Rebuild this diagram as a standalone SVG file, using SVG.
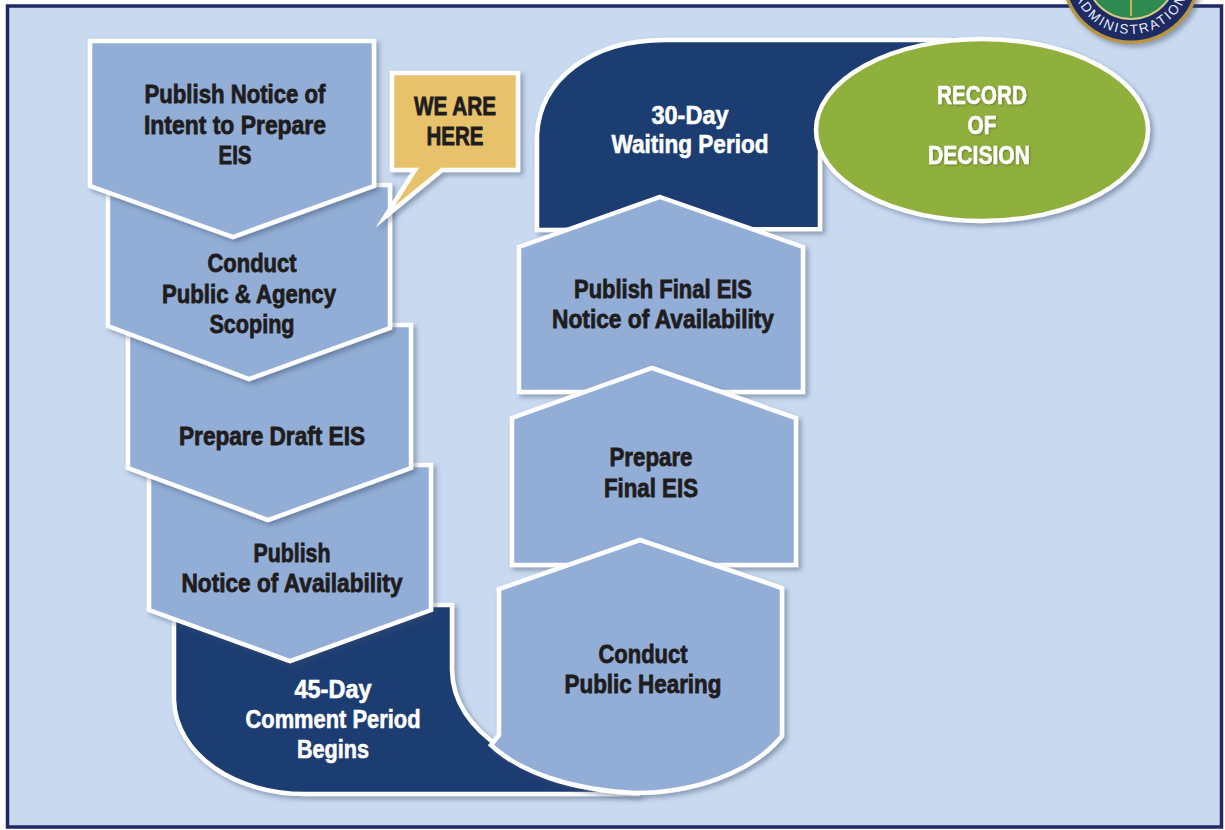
<svg xmlns="http://www.w3.org/2000/svg" width="1225" height="830" viewBox="0 0 1225 830">
<style>
.n{fill:#92aed6;stroke:#fff;stroke-width:4.500;stroke-linejoin:miter;filter:url(#s)}
.d{fill:#1f3d72;stroke:#fff;stroke-width:4.500;filter:url(#s)}
text{font-family:"Liberation Sans Narrow","Liberation Sans",Arial,sans-serif;font-weight:700;font-size:26px;text-anchor:middle}
.k{fill:#1f1c1e;stroke:#1f1c1e;stroke-width:.8}
.w{fill:#fff;stroke:#fff;stroke-width:.6}
.g{filter:url(#t)}
</style>
<defs>
<filter id="s" x="-10%" y="-10%" width="125%" height="125%"><feDropShadow dx="3" dy="3" stdDeviation="2.500" flood-color="#3c4a6a" flood-opacity=".45"/></filter>
<filter id="t" x="-10%" y="-20%" width="120%" height="140%"><feDropShadow dx="1" dy="1" stdDeviation="1.200" flood-color="#4c5c20" flood-opacity=".6"/></filter>
<path id="arc" d="M1071,-26 A60,60 0 0 0 1191,-26"/>
</defs>
<rect width="1225" height="830" fill="#fff"/>
<rect x="7.500" y="6" width="1214" height="821" fill="#c9daf0" stroke="#1e2a66" stroke-width="3.500"/>
<g id="seal">
<circle cx="1131" cy="-26" r="70" fill="#b8953f" filter="url(#s)"/>
<circle cx="1131" cy="-26" r="66.500" fill="#1d2a64"/>
<circle cx="1131" cy="-26" r="46" fill="#d8c98a"/>
<circle cx="1131" cy="-26" r="44" fill="#2e8a4e"/>
<path d="M1131,-5 L1131,16" stroke="#c9b25a" stroke-width="2"/>
<text style="font-family:'Liberation Sans',sans-serif;font-size:13.500px;font-weight:400;letter-spacing:2px;fill:#e8ecf4"><textPath href="#arc" startOffset="50%">ADMINISTRATION</textPath></text>
</g>
<g id="connectors"></g>
<g id="waiting">
<path class="d" d="M537,230 L537,135 C540,80 590,40 665,40 L945,40 L820,130 L820,229 Z"/>
<text class="w" x="690" y="124" textLength="77" lengthAdjust="spacingAndGlyphs">30-Day</text>
<text class="w" x="690" y="153" textLength="157" lengthAdjust="spacingAndGlyphs">Waiting Period</text>
</g>
<g id="record">
<ellipse cx="982" cy="130" rx="166" ry="91" fill="#90b03c" stroke="#fff" stroke-width="4.500" filter="url(#s)"/>
<text class="w g" x="982" y="104" textLength="90" lengthAdjust="spacingAndGlyphs">RECORD</text>
<text class="w g" x="982" y="134" textLength="29" lengthAdjust="spacingAndGlyphs">OF</text>
<text class="w g" x="979" y="164" textLength="102" lengthAdjust="spacingAndGlyphs">DECISION</text>
</g>
<g id="final-noa">
<path class="n" d="M660,197 L803,247 L803,392 L519,392 L519,247 Z"/>
<text class="k" x="663" y="298" textLength="178" lengthAdjust="spacingAndGlyphs">Publish Final EIS</text>
<text class="k" x="663" y="328" textLength="222" lengthAdjust="spacingAndGlyphs">Notice of Availability</text>
</g>
<g id="final-eis">
<path class="n" d="M652,368 L796,418 L796,565 L512,565 L512,418 Z"/>
<text class="k" x="651" y="466" textLength="83" lengthAdjust="spacingAndGlyphs">Prepare</text>
<text class="k" x="651" y="497" textLength="94" lengthAdjust="spacingAndGlyphs">Final EIS</text>
</g>
<g id="comment">
<path class="d" d="M174,612 L174,700 C176,755 235,794 305,794 L640,794 L620,793 C530,775 453,735 452,670 L452,605 L300,605 Z"/>
<text class="w" x="333" y="698" textLength="77" lengthAdjust="spacingAndGlyphs">45-Day</text>
<text class="w" x="333" y="728" textLength="175" lengthAdjust="spacingAndGlyphs">Comment Period</text>
<text class="w" x="333" y="758" textLength="72" lengthAdjust="spacingAndGlyphs">Begins</text>
</g>
<g id="hearing">
<path class="n" d="M640,540 L782,588 L782,736 C750,775 690,793 635,793 C570,790 520,772 491,745 L499,735 L499,589 Z"/>
<text class="k" x="643" y="663" textLength="89" lengthAdjust="spacingAndGlyphs">Conduct</text>
<text class="k" x="643" y="693" textLength="157" lengthAdjust="spacingAndGlyphs">Public Hearing</text>
</g>
<g id="noa">
<path class="n" d="M149,465 L431,465 L431,610 L290,661 L149,610 Z"/>
<text class="k" x="292" y="562" textLength="77" lengthAdjust="spacingAndGlyphs">Publish</text>
<text class="k" x="292" y="592" textLength="221" lengthAdjust="spacingAndGlyphs">Notice of Availability</text>
</g>
<g id="draft">
<path class="n" d="M128,325 L411,325 L411,468 L268,520 L128,468 Z"/>
<text class="k" x="272" y="445" textLength="186" lengthAdjust="spacingAndGlyphs">Prepare Draft EIS</text>
</g>
<g id="scoping">
<path class="n" d="M108,185 L390,185 L390,328 L249,379 L108,326 Z"/>
<text class="k" x="252" y="272" textLength="89" lengthAdjust="spacingAndGlyphs">Conduct</text>
<text class="k" x="249" y="303" textLength="174" lengthAdjust="spacingAndGlyphs">Public &amp; Agency</text>
<text class="k" x="252" y="333" textLength="85" lengthAdjust="spacingAndGlyphs">Scoping</text>
</g>
<g id="intent">
<path class="n" d="M90,41 L374,41 L374,186 L233,237 L90,186 Z"/>
<text class="k" x="235" y="103" textLength="181" lengthAdjust="spacingAndGlyphs">Publish Notice of</text>
<text class="k" x="235" y="134" textLength="182" lengthAdjust="spacingAndGlyphs">Intent to Prepare</text>
<text class="k" x="235" y="164" textLength="33" lengthAdjust="spacingAndGlyphs">EIS</text>
</g>
<g id="here">
<path d="M392,73 L518,73 L518,170 L442,170 L385,217 L415,170 L392,170 Z" fill="#e7c26a" stroke="#fff" stroke-width="4.500" stroke-miterlimit="10" filter="url(#s)"/>
<text class="k" x="455" y="115" textLength="82" lengthAdjust="spacingAndGlyphs">WE ARE</text>
<text class="k" x="455" y="145" textLength="57" lengthAdjust="spacingAndGlyphs">HERE</text>
</g>
</svg>
